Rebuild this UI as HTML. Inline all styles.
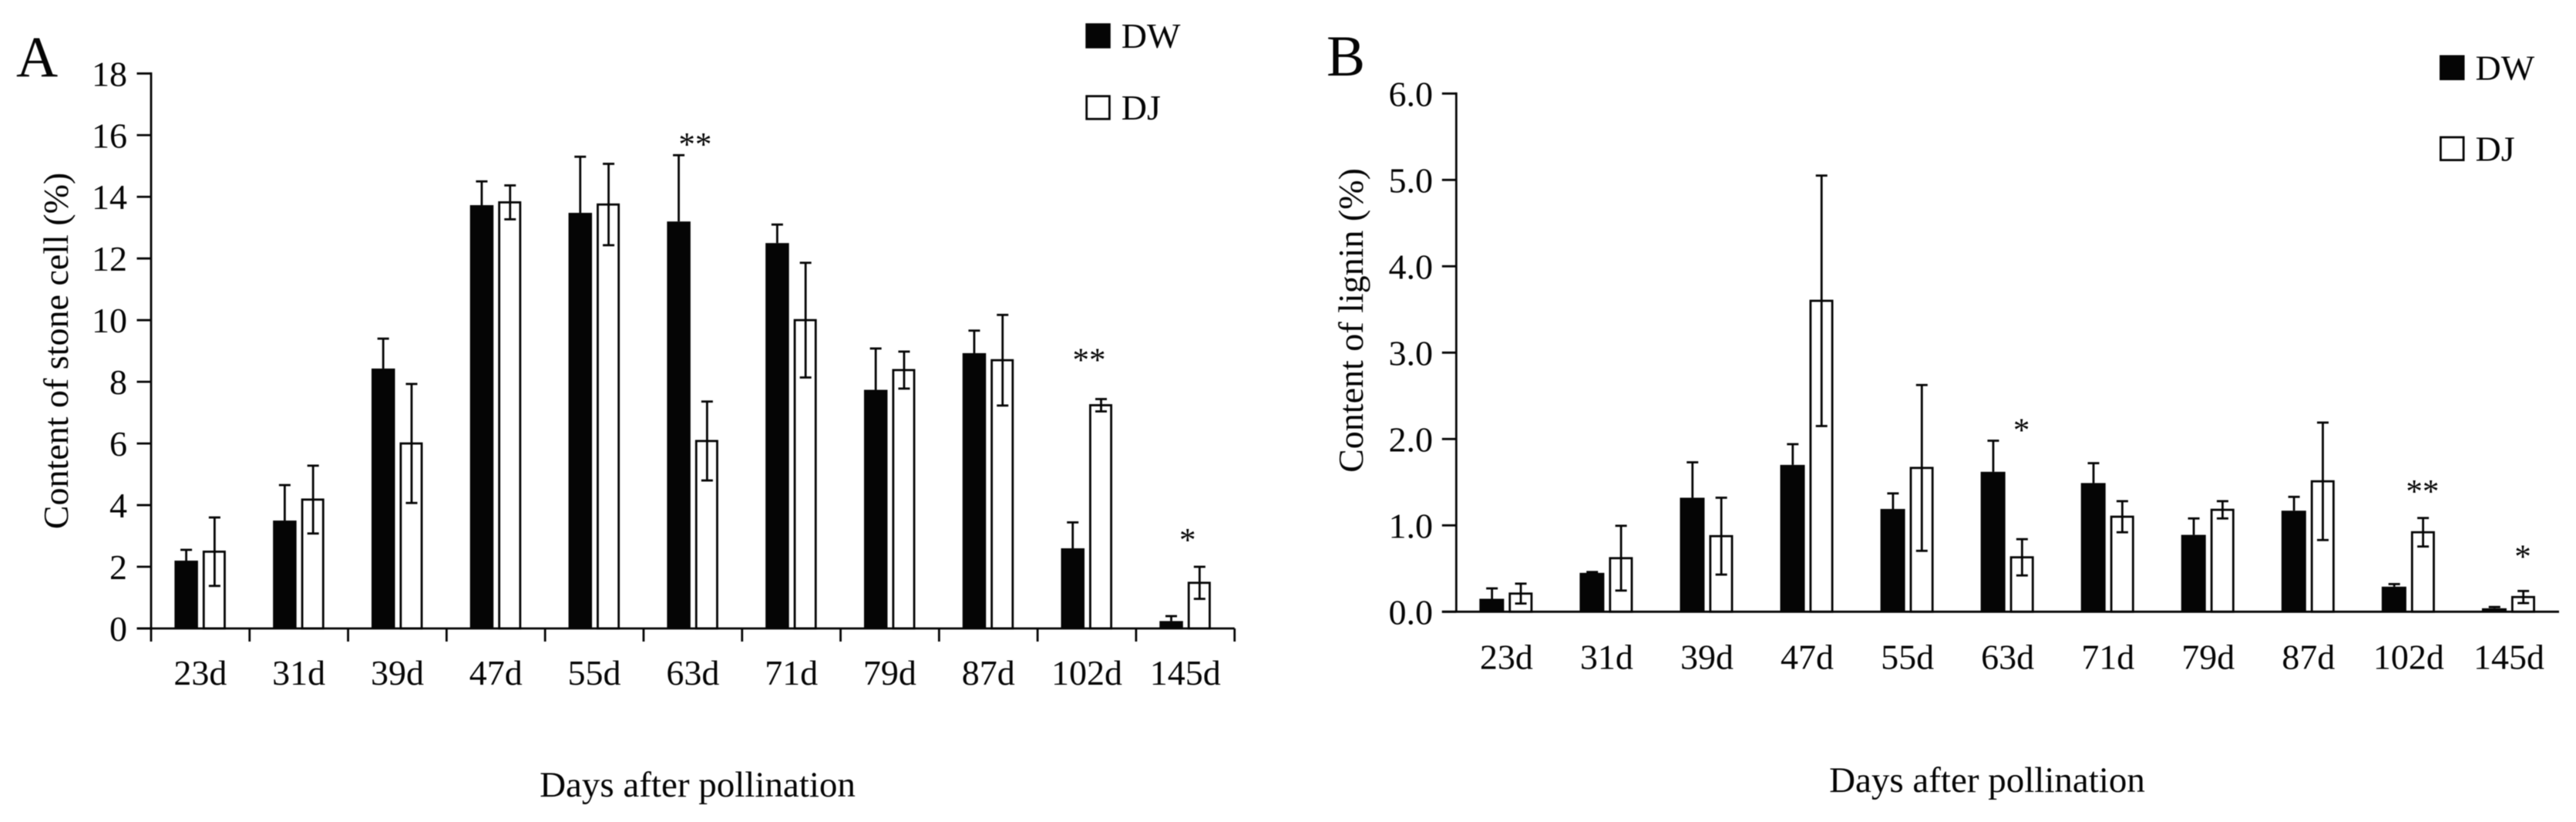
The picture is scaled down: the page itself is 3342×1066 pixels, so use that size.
<!DOCTYPE html>
<html lang="en">
<head>
<meta charset="utf-8">
<title>Stone cell and lignin content after pollination</title>
<style>
html,body{margin:0;padding:0;background:#fff;width:3342px;height:1066px;overflow:hidden}
svg{display:block;filter:blur(0.5px)}
text{font-family:"Liberation Serif",serif;font-size:46px;fill:#050505}
</style>
</head>
<body>
<svg id="figure" width="3342" height="1066" viewBox="0 0 3342 1066" xmlns="http://www.w3.org/2000/svg"></svg>
<script>
const categories = ['23d','31d','39d','47d','55d','63d','71d','79d','87d','102d','145d'];

const stoneTicks = [0,2,4,6,8,10,12,14,16,18];
const stoneTickLabels = ['0','2','4','6','8','10','12','14','16','18'];
const stoneDW = [2.2,3.5,8.43,13.73,13.48,13.2,12.5,7.74,8.93,2.6,0.24];
const stoneDWErr = [0.35,1.15,0.97,0.77,1.82,2.15,0.6,1.34,0.73,0.84,0.16];
const stoneDJ = [2.49,4.18,6.0,13.82,13.75,6.08,10.0,8.38,8.7,7.24,1.48];
const stoneDJErr = [1.11,1.10,1.93,0.55,1.32,1.28,1.86,0.6,1.47,0.2,0.52];
const stoneStarGroups = [5,9,10];
const stoneStarLabels = ['**','**','*'];
const stoneStarLevels = [15.84,8.85,3.01];

const ligninTicks = [0,1,2,3,4,5,6];
const ligninTickLabels = ['0.0','1.0','2.0','3.0','4.0','5.0','6.0'];
const ligninDW = [0.15,0.45,1.32,1.70,1.19,1.62,1.49,0.89,1.17,0.29,0.04];
const ligninDWErr = [0.12,0.01,0.41,0.24,0.18,0.36,0.23,0.19,0.16,0.03,0.015];
const ligninDJ = [0.21,0.62,0.875,3.6,1.665,0.63,1.10,1.18,1.51,0.92,0.17];
const ligninDJErr = [0.115,0.375,0.445,1.45,0.96,0.21,0.18,0.1,0.68,0.165,0.07];
const ligninStarGroups = [5,9,10];
const ligninStarLabels = ['*','**','*'];
const ligninStarLevels = [2.155,1.443,0.69];

const NS = 'http://www.w3.org/2000/svg';
const root = document.getElementById('figure');
const INK = '#050505';
const LINE = 2.8;

function make(parent, tag, attrs, content) {
  const el = document.createElementNS(NS, tag);
  for (const k in attrs) el.setAttribute(k, attrs[k]);
  if (content !== undefined) el.textContent = content;
  parent.appendChild(el);
  return el;
}

function line(parent, x1, y1, x2, y2, w) {
  return make(parent, 'line', {x1, y1, x2, y2, stroke: INK, 'stroke-width': w || LINE});
}

function drawPanel(p) {
  const g = make(root, 'g', {});
  
  

  const yScale = v => p.y0 - (v / p.yMax) * (p.y0 - p.yTop);
  const band = (p.xEnd - p.x0) / categories.length;
  const xCenter = i => p.x0 + band * (i + 0.5);

  const letter = make(g, 'text', {x: p.letterX, y: p.letterY, style: 'font-size:75px'}, p.letter);
  
  

  categories.forEach((c, i) => {
    const cx = xCenter(i);

    const dwTop = yScale(p.dw[i]);
    const dwBar = make(g, 'rect', {x: cx + p.dwX, y: dwTop, width: p.dwW, height: p.y0 - dwTop, fill: INK});
    
    

    const dwHi = yScale(p.dw[i] + p.dwErr[i]);
    const dwE = make(g, 'g', {});
    
    
    line(dwE, cx + p.dwEx, dwTop, cx + p.dwEx, dwHi);
    line(dwE, cx + p.dwEx - 7.5, dwHi, cx + p.dwEx + 7.5, dwHi);

    const djTop = yScale(p.dj[i]);
    const djBar = make(g, 'rect', {x: cx + p.djX, y: djTop, width: p.djW, height: p.y0 - djTop, fill: '#fff', stroke: INK, 'stroke-width': LINE});
    
    

    const djHi = yScale(p.dj[i] + p.djErr[i]);
    const djLo = yScale(p.dj[i] - p.djErr[i]);
    const djE = make(g, 'g', {});
    
    
    line(djE, cx + p.djEx, djHi, cx + p.djEx, djLo);
    line(djE, cx + p.djEx - 7.5, djHi, cx + p.djEx + 7.5, djHi);
    line(djE, cx + p.djEx - 7.5, djLo, cx + p.djEx + 7.5, djLo);

    const lab = make(g, 'text', {x: cx, y: p.xLabelY, 'text-anchor': 'middle'}, c);
    
    
  });

  const yAxis = line(g, p.x0, p.yTop - 1.4, p.x0, p.y0 + 1);
  
  

  const xAxis = line(g, p.x0 - 18.5, p.y0, p.xEnd, p.y0);
  
  

  p.ticks.forEach((t, i) => {
    const y = yScale(t);
    const tick = line(g, p.x0 - 18.5, y, p.x0, y);
    
    
    const lab = make(g, 'text', {x: p.yLabelX, y: y + 16, 'text-anchor': 'end'}, p.tickLabels[i]);
    
    
  });

  if (p.xTickMarks) {
    for (let i = 0; i <= categories.length; i++) {
      const x = p.x0 + band * i;
      const tick = line(g, x, p.y0, x, p.y0 + 17);
      
      
    }
  }

  p.starGroups.forEach((gi, i) => {
    const star = make(g, 'text', {x: xCenter(gi) + p.starDx, y: yScale(p.starLevels[i]) + 20, 'text-anchor': 'middle', style: 'font-size:43px'}, p.starLabels[i]);
    
    
  });

  const yTitle = make(g, 'text', {transform: 'translate(' + p.yTitleX + ',' + p.yTitleY + ') rotate(-90)', 'text-anchor': 'middle'}, p.yTitle);
  
  

  const xTitle = make(g, 'text', {x: p.xTitleX, y: p.xTitleY, 'text-anchor': 'middle', style: 'font-size:47px'}, 'Days after pollination');
  
  

  const dwSw = make(g, 'rect', {x: p.legX, y: p.legDwY - 32.5, width: 32.5, height: 32.5, fill: INK});
  
  
  const dwTx = make(g, 'text', {x: p.legX + 46.5, y: p.legDwY - 0.5}, 'DW');
  
  

  const djSw = make(g, 'rect', {x: p.legX + 1.4, y: p.legDjY - 31, width: 29.7, height: 29.6, fill: '#fff', stroke: INK, 'stroke-width': LINE});
  
  
  const djTx = make(g, 'text', {x: p.legX + 46.5, y: p.legDjY - 0.5}, 'DJ');
  
  
}

drawPanel({
  id: 'stone-cell', letter: 'A', letterX: 21, letterY: 99,
  x0: 196, xEnd: 1601.7, y0: 815, yTop: 95.3, yMax: 18,
  ticks: stoneTicks, tickLabels: stoneTickLabels,
  dw: stoneDW, dwErr: stoneDWErr, dj: stoneDJ, djErr: stoneDJErr,
  dwX: -33.5, dwW: 30.5, djX: 4.4, djW: 27.2, dwEx: -18.3, djEx: 18.5,
  starGroups: stoneStarGroups, starLabels: stoneStarLabels, starLevels: stoneStarLevels, starDx: 3,
  xLabelY: 888, yLabelX: 165, xTickMarks: true,
  yTitle: 'Content of stone cell (%)', yTitleX: 88, yTitleY: 455,
  xTitleX: 905, xTitleY: 1033,
  legX: 1408.3, legDwY: 62.7, legDjY: 155.7
});

drawPanel({
  id: 'lignin', letter: 'B', letterX: 1721, letterY: 98,
  x0: 1889.3, xEnd: 3320, y0: 793.3, yTop: 121.3, yMax: 6,
  ticks: ligninTicks, tickLabels: ligninTickLabels,
  dw: ligninDW, dwErr: ligninDWErr, dj: ligninDJ, djErr: ligninDJErr,
  dwX: -35, dwW: 32, djX: 4.4, djW: 28.2, dwEx: -18.7, djEx: 18.7,
  starGroups: ligninStarGroups, starLabels: ligninStarLabels, starLevels: ligninStarLevels, starDx: 18,
  xLabelY: 867.3, yLabelX: 1859, xTickMarks: false,
  yTitle: 'Content of lignin (%)', yTitleX: 1768, yTitleY: 415.5,
  xTitleX: 2578, xTitleY: 1027,
  legX: 3165, legDwY: 104, legDjY: 209
});
</script>
</body>
</html>
